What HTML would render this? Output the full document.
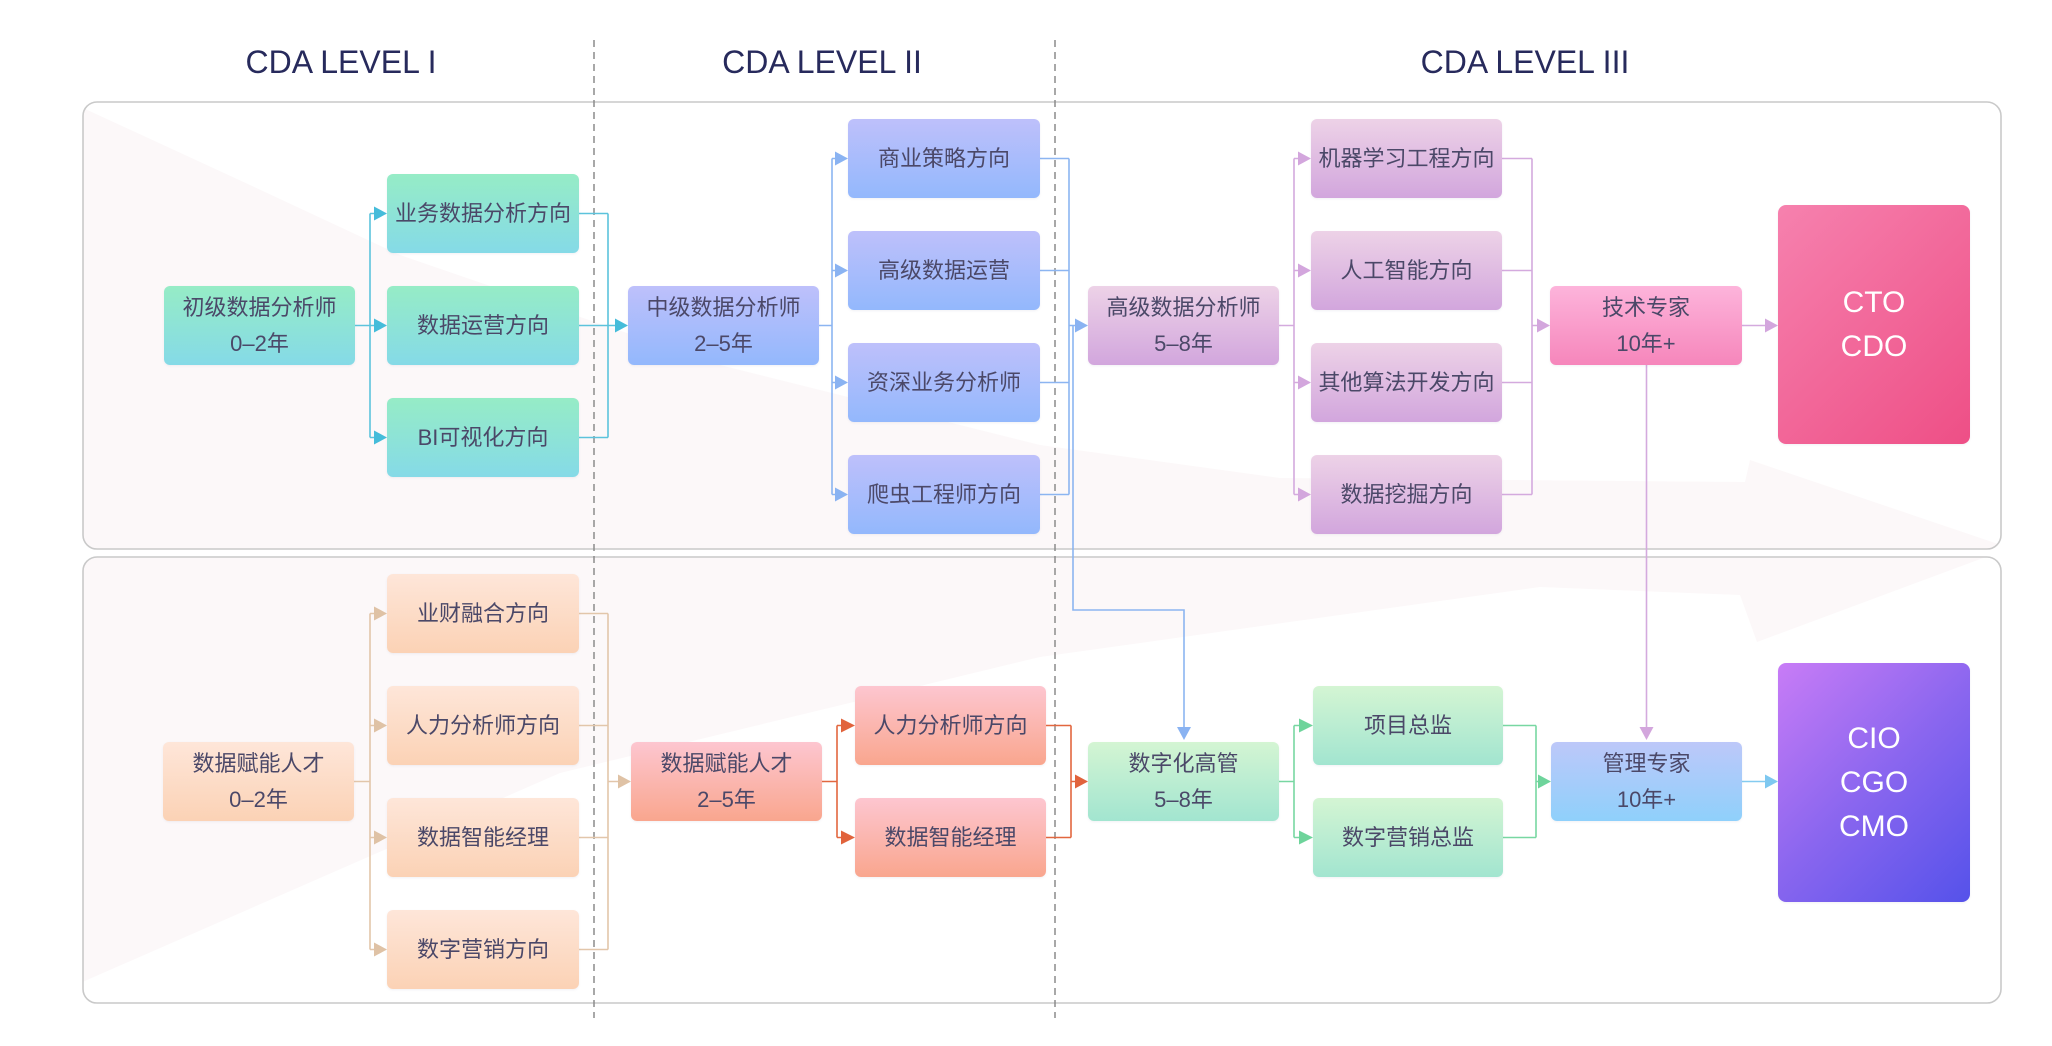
<!DOCTYPE html>
<html>
<head>
<meta charset="utf-8">
<style>
  html,body{margin:0;padding:0;}
  body{width:2052px;height:1046px;position:relative;overflow:hidden;background:#fff;
       font-family:"Liberation Sans","Noto Sans CJK SC",sans-serif;}
  .b{position:absolute;display:flex;flex-direction:column;align-items:center;justify-content:center;
     border-radius:6px;font-size:22px;line-height:35.5px;color:#4b4868;white-space:nowrap;text-align:center;
     box-shadow:0 1px 2px rgba(120,120,150,0.10);}
  .teal{background:linear-gradient(180deg,#96ecc6 0%,#85dae7 100%);}
  .blue{background:linear-gradient(180deg,#bec0fb 0%,#93b8fc 100%);}
  .purp{background:linear-gradient(180deg,#edd2e7 0%,#d2a6dd 100%);}
  .pink{background:linear-gradient(180deg,#fdb4db 0%,#f686bb 100%);}
  .peach{background:linear-gradient(180deg,#fee6d9 0%,#fbd2b5 100%);}
  .salm{background:linear-gradient(180deg,#fdc6d0 0%,#f9a68e 100%);}
  .green{background:linear-gradient(180deg,#d4f5d3 0%,#a2e5d0 100%);}
  .mgr{background:linear-gradient(180deg,#bdc8f9 0%,#8fd0fb 100%);}
  .big{font-size:30px;line-height:44px;color:#fff;border-radius:8px;}
  .cto{background:linear-gradient(135deg,#f681ae 0%,#ee4f86 100%);}
  .cio{background:linear-gradient(135deg,#c87cf6 0%,#8a66ef 50%,#5552ea 100%);}
</style>
</head>
<body>
<svg width="2052" height="1046" style="position:absolute;left:0;top:0" xmlns="http://www.w3.org/2000/svg">
  <defs>
    <clipPath id="cl">
      <rect x="83" y="102" width="1918" height="447" rx="14"/>
      <rect x="83" y="557" width="1918" height="446" rx="14"/>
    </clipPath>
  </defs>
  <rect x="83" y="102" width="1918" height="447" rx="14" fill="#fff"/>
  <rect x="83" y="557" width="1918" height="446" rx="14" fill="#fff"/>
  <polygon clip-path="url(#cl)" fill="#fcf8f9"
    points="83,108 250,185 400,255 720,365 1040,445 1280,478 1745,482 1750,460 2010,548 1757,642 1740,595 1540,587 1040,657 560,773 80,983 70,983 70,108"/>
  <rect x="83" y="102" width="1918" height="447" rx="14" fill="none" stroke="#c9c9c9" stroke-width="1.6"/>
  <rect x="83" y="557" width="1918" height="446" rx="14" fill="none" stroke="#c9c9c9" stroke-width="1.6"/>

  <g font-family="Liberation Sans, sans-serif" font-size="32" fill="#272a5c" text-anchor="middle">
    <text x="341" y="73">CDA LEVEL I</text>
    <text x="822" y="73">CDA LEVEL II</text>
    <text x="1525" y="73">CDA LEVEL III</text>
  </g>

  <g stroke="#8c8c8c" stroke-width="1.5" stroke-dasharray="7 5">
    <line x1="594" y1="40" x2="594" y2="1018"/>
    <line x1="1055" y1="40" x2="1055" y2="1018"/>
  </g>

  <g fill="none" stroke="#5cc3dc" stroke-width="1.6">
    <path d="M355 325.5H370M370 213.5V437.5M370 213.5H374M370 325.5H374M370 437.5H374"/>
    <path d="M579 213.5H608M579 325.5H608M579 437.5H608M608 213.5V437.5M608 325.5H615"/>
  </g>
  <g fill="#45bcda">
    <polygon points="374,206.5 387,213.5 374,220.5"/>
    <polygon points="374,318.5 387,325.5 374,332.5"/>
    <polygon points="374,430.5 387,437.5 374,444.5"/>
    <polygon points="615,318.5 628,325.5 615,332.5"/>
  </g>

  <g fill="none" stroke="#8cb5f1" stroke-width="1.6">
    <path d="M819 325.5H832M832 158.5V494.5M832 158.5H835M832 270.5H835M832 382.5H835M832 494.5H835"/>
    <path d="M1040 158.5H1069M1040 270.5H1069M1040 382.5H1069M1040 494.5H1069M1069 158.5V494.5M1069 325.5H1075"/>
    <path d="M1073 325.5V610H1184V727"/>
  </g>
  <g fill="#8ab3f2">
    <polygon points="835,151.5 848,158.5 835,165.5"/>
    <polygon points="835,263.5 848,270.5 835,277.5"/>
    <polygon points="835,375.5 848,382.5 835,389.5"/>
    <polygon points="835,487.5 848,494.5 835,501.5"/>
    <polygon points="1075,318.5 1088,325.5 1075,332.5"/>
    <polygon points="1177,727 1184,740 1191,727"/>
  </g>

  <g fill="none" stroke="#d4aade" stroke-width="1.6">
    <path d="M1279 325.5H1294M1294 158.5V494.5M1294 158.5H1298M1294 270.5H1298M1294 382.5H1298M1294 494.5H1298"/>
    <path d="M1502 158.5H1532M1502 270.5H1532M1502 382.5H1532M1502 494.5H1532M1532 158.5V494.5M1532 325.5H1537"/>
    <path d="M1742 325.5H1765"/>
    <path d="M1646.5 365V727"/>
  </g>
  <g fill="#d3a6dd">
    <polygon points="1298,151.5 1311,158.5 1298,165.5"/>
    <polygon points="1298,263.5 1311,270.5 1298,277.5"/>
    <polygon points="1298,375.5 1311,382.5 1298,389.5"/>
    <polygon points="1298,487.5 1311,494.5 1298,501.5"/>
    <polygon points="1537,318.5 1550,325.5 1537,332.5"/>
    <polygon points="1765,318.5 1778,325.5 1765,332.5"/>
    <polygon points="1639.5,727 1646.5,740 1653.5,727"/>
  </g>

  <g fill="none" stroke="#e2c6aa" stroke-width="1.6">
    <path d="M354 781.5H370M370 613.5V949.5M370 613.5H374M370 725.5H374M370 837.5H374M370 949.5H374"/>
    <path d="M579 613.5H608M579 725.5H608M579 837.5H608M579 949.5H608M608 613.5V949.5M608 781.5H618"/>
  </g>
  <g fill="#dfc2a5">
    <polygon points="374,606.5 387,613.5 374,620.5"/>
    <polygon points="374,718.5 387,725.5 374,732.5"/>
    <polygon points="374,830.5 387,837.5 374,844.5"/>
    <polygon points="374,942.5 387,949.5 374,956.5"/>
    <polygon points="618,774.5 631,781.5 618,788.5"/>
  </g>

  <g fill="none" stroke="#e2673f" stroke-width="1.6">
    <path d="M822 781.5H837M837 725.5V837.5M837 725.5H841M837 837.5H841"/>
    <path d="M1046 725.5H1071M1046 837.5H1071M1071 725.5V837.5M1071 781.5H1075"/>
  </g>
  <g fill="#e1633c">
    <polygon points="841,718.5 855,725.5 841,732.5"/>
    <polygon points="841,830.5 855,837.5 841,844.5"/>
    <polygon points="1075,774.5 1088,781.5 1075,788.5"/>
  </g>

  <g fill="none" stroke="#78d7a2" stroke-width="1.6">
    <path d="M1279 781.5H1294M1294 725.5V837.5M1294 725.5H1299M1294 837.5H1299"/>
    <path d="M1503 725.5H1536M1503 837.5H1536M1536 725.5V837.5M1536 781.5H1538"/>
  </g>
  <g fill="#6ed49b">
    <polygon points="1299,718.5 1313,725.5 1299,732.5"/>
    <polygon points="1299,830.5 1313,837.5 1299,844.5"/>
    <polygon points="1538,774.5 1551,781.5 1538,788.5"/>
  </g>

  <g fill="none" stroke="#84cbf0" stroke-width="1.6">
    <path d="M1742 781.5H1765"/>
  </g>
  <polygon fill="#7ec8f0" points="1765,774.5 1778,781.5 1765,788.5"/>
</svg>

<div class="b teal" style="left:164px;top:286px;width:191px;height:79px;"><div>初级数据分析师</div><div>0–2年</div></div>
<div class="b teal" style="left:387px;top:174px;width:192px;height:79px;">业务数据分析方向</div>
<div class="b teal" style="left:387px;top:286px;width:192px;height:79px;">数据运营方向</div>
<div class="b teal" style="left:387px;top:398px;width:192px;height:79px;">BI可视化方向</div>

<div class="b blue" style="left:628px;top:286px;width:191px;height:79px;"><div>中级数据分析师</div><div>2–5年</div></div>
<div class="b blue" style="left:848px;top:119px;width:192px;height:79px;">商业策略方向</div>
<div class="b blue" style="left:848px;top:231px;width:192px;height:79px;">高级数据运营</div>
<div class="b blue" style="left:848px;top:343px;width:192px;height:79px;">资深业务分析师</div>
<div class="b blue" style="left:848px;top:455px;width:192px;height:79px;">爬虫工程师方向</div>

<div class="b purp" style="left:1088px;top:286px;width:191px;height:79px;"><div>高级数据分析师</div><div>5–8年</div></div>
<div class="b purp" style="left:1311px;top:119px;width:191px;height:79px;">机器学习工程方向</div>
<div class="b purp" style="left:1311px;top:231px;width:191px;height:79px;">人工智能方向</div>
<div class="b purp" style="left:1311px;top:343px;width:191px;height:79px;">其他算法开发方向</div>
<div class="b purp" style="left:1311px;top:455px;width:191px;height:79px;">数据挖掘方向</div>

<div class="b pink" style="left:1550px;top:286px;width:192px;height:79px;"><div>技术专家</div><div>10年+</div></div>
<div class="b big cto" style="left:1778px;top:205px;width:192px;height:239px;"><div>CTO</div><div>CDO</div></div>

<div class="b peach" style="left:163px;top:742px;width:191px;height:79px;"><div>数据赋能人才</div><div>0–2年</div></div>
<div class="b peach" style="left:387px;top:574px;width:192px;height:79px;">业财融合方向</div>
<div class="b peach" style="left:387px;top:686px;width:192px;height:79px;">人力分析师方向</div>
<div class="b peach" style="left:387px;top:798px;width:192px;height:79px;">数据智能经理</div>
<div class="b peach" style="left:387px;top:910px;width:192px;height:79px;">数字营销方向</div>

<div class="b salm" style="left:631px;top:742px;width:191px;height:79px;"><div>数据赋能人才</div><div>2–5年</div></div>
<div class="b salm" style="left:855px;top:686px;width:191px;height:79px;">人力分析师方向</div>
<div class="b salm" style="left:855px;top:798px;width:191px;height:79px;">数据智能经理</div>

<div class="b green" style="left:1088px;top:742px;width:191px;height:79px;"><div>数字化高管</div><div>5–8年</div></div>
<div class="b green" style="left:1313px;top:686px;width:190px;height:79px;">项目总监</div>
<div class="b green" style="left:1313px;top:798px;width:190px;height:79px;">数字营销总监</div>

<div class="b mgr" style="left:1551px;top:742px;width:191px;height:79px;"><div>管理专家</div><div>10年+</div></div>
<div class="b big cio" style="left:1778px;top:663px;width:192px;height:239px;"><div>CIO</div><div>CGO</div><div>CMO</div></div>
</body>
</html>
